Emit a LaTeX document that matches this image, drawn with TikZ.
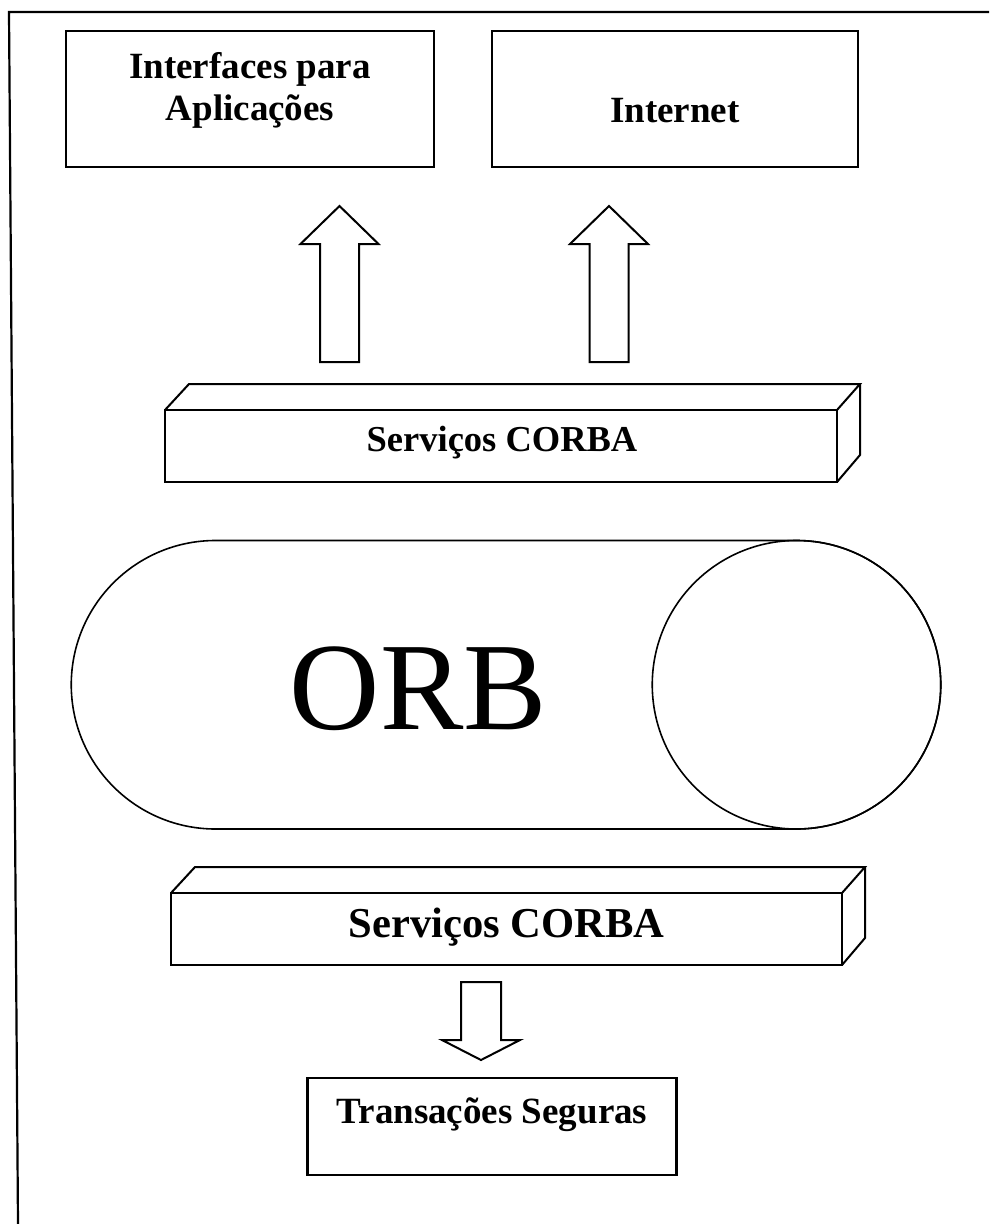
\documentclass[tikz,border=0pt]{standalone}
\usepackage{fontspec}
\setmainfont{Liberation Serif}
\begin{document}
\begin{tikzpicture}[x=1pt,y=-1pt,line join=miter,
  frameline/.style={line width=2.2pt},
  boxnode/.style={draw,line width=2.4pt,inner sep=0pt},
  lbl/.style={anchor=base,inner sep=0pt,font=\bfseries\fontsize{37}{42}\selectfont},
  fatarrow/.style={draw,line width=2pt,fill=white},
  barline/.style={line width=2pt},
  orbline/.style={line width=1.6pt}]
\useasboundingbox (0,0) rectangle (989,1224);
\fill[white] (0,0) rectangle (989,1224);
% outer frame (top and left only)
\draw[frameline] (989,12) -- (9,12) -- (18,1224);

% top boxes
\node[boxnode,minimum width=368pt,minimum height=136pt] (apps) at (250,99) {};
\node[lbl] (appsA) at (250,78) {Interfaces para};
\node[lbl] (appsB) at (250,120) {Aplicações};
\node[boxnode,minimum width=366pt,minimum height=136pt] (inet) at (675,99) {};
\node[lbl] (inetT) at (675,122) {Internet};

% up arrows
\foreach \c in {339.5,609}{
  \draw[fatarrow] (\c-19.5,362) -- (\c-19.5,244) -- (\c-39,244) -- (\c,206)
     -- (\c+39,244) -- (\c+19.5,244) -- (\c+19.5,362) -- cycle;
}

% 3D bars
\newcommand\cbar[4]{%
  \draw[barline] (#1,#2) rectangle (#3,#4);
  \draw[barline] (#1,#2) -- (#1+24,#2-26) -- (#3+23,#2-26) -- (#3,#2);
  \draw[barline] (#3+23,#2-26) -- (#3+23,#4-27) -- (#3,#4);
}
\cbar{165}{410}{837}{482}
\node[lbl,font=\bfseries\fontsize{36.5}{40}\selectfont] (corbaA) at (502,451) {Serviços CORBA};

% ORB
\draw[orbline] (215.5,540.5) -- (796.5,540.5)
   arc[start angle=-90,end angle=90,radius=144.25] -- (215.5,829)
   arc[start angle=90,end angle=270,radius=144.25] -- cycle;
\draw[orbline] (796.5,684.75) circle[radius=144.25];
\node[anchor=base,inner sep=0pt,font=\fontsize{125}{125}\selectfont] (orb) at (418.5,729) {ORB};

% lower bar
\cbar{171}{893}{842}{965}
\node[lbl,font=\bfseries\fontsize{42.6}{46}\selectfont] (corbaB) at (506.5,937) {Serviços CORBA};

% down arrow
\draw[fatarrow] (461,982) -- (501,982) -- (501,1040) -- (520,1040) -- (481,1060)
   -- (442,1040) -- (461,1040) -- cycle;

% bottom box
\node[boxnode,minimum width=369pt,minimum height=97pt] (trans) at (492,1126.5) {};
\node[lbl] (transT) at (492,1123) {Transações Seguras};
\end{tikzpicture}
\end{document}
